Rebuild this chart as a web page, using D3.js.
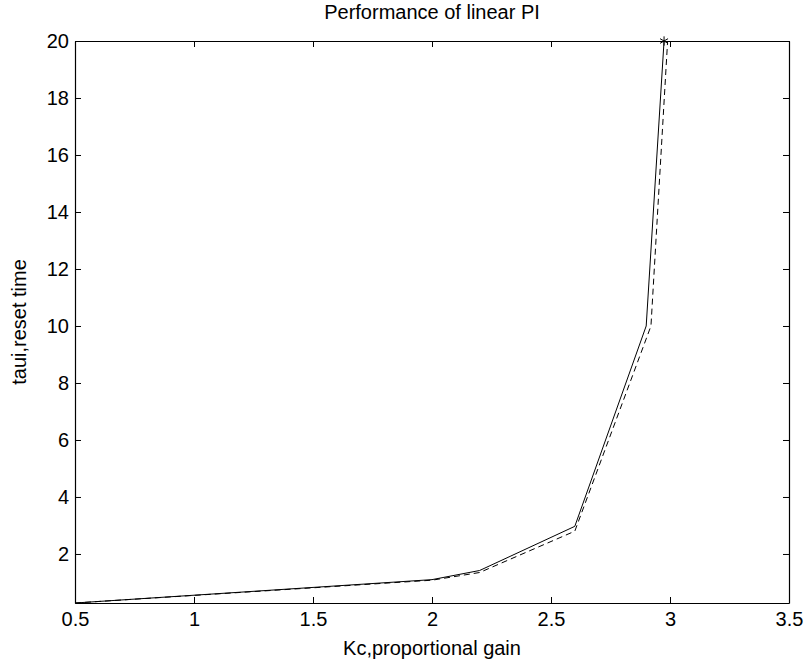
<!DOCTYPE html>
<html>
<head>
<meta charset="utf-8">
<script src="https://cdn.jsdelivr.net/npm/d3@7"></script>
<style>
  body { margin: 0; background: #fff; }
  text { font-family: "Liberation Sans", Arial, sans-serif; fill: #000; }
</style>
</head>
<body>
<script>
// data
var kcSolid   = [0.5, 2.0, 2.2, 2.6, 2.9, 2.975];
var tauSolid  = [0.28, 1.1, 1.42, 2.97, 10, 20];
var kcDashed  = [0.5, 2.0, 2.2, 2.6, 2.92, 2.99];
var tauDashed = [0.28, 1.08, 1.35, 2.8, 10, 20];
var xTicks = [0.5, 1, 1.5, 2, 2.5, 3, 3.5];
var yTicks = [2, 4, 6, 8, 10, 12, 14, 16, 18, 20];

var W = 807, H = 666;
var margin = {top: 41, right: 18, bottom: 63, left: 75};
var w = W - margin.left - margin.right;
var h = H - margin.top - margin.bottom;
var fs = 20;

var svg = d3.select("body").append("svg")
    .attr("width", W)
    .attr("height", H);

var g = svg.append("g")
    .attr("transform", "translate(" + margin.left + "," + margin.top + ")");

var x = d3.scaleLinear().domain([0.5, 3.5]).range([0, w]);
var y = d3.scaleLinear().domain([0.28, 20]).range([h, 0]);

// axes, ticks pointing inward like matlab
g.append("g")
    .attr("transform", "translate(0," + h + ")")
    .call(d3.axisBottom(x).tickValues(xTicks).tickSizeInner(-6).tickSizeOuter(0).tickPadding(9).tickFormat(d3.format("")));
g.append("g")
    .call(d3.axisTop(x).tickValues(xTicks).tickSizeInner(-6).tickSizeOuter(0).tickFormat(""));
g.append("g")
    .call(d3.axisLeft(y).tickValues(yTicks).tickSizeInner(-6).tickSizeOuter(0).tickPadding(6));
g.append("g")
    .attr("transform", "translate(" + w + ",0)")
    .call(d3.axisRight(y).tickValues(yTicks).tickSizeInner(-6).tickSizeOuter(0).tickFormat(""));

g.selectAll(".domain").attr("stroke", "#000").attr("stroke-width", 1.2);
g.selectAll(".tick line").attr("stroke", "#000");
g.selectAll(".tick text").style("font-size", fs + "px").attr("fill", "#000");

var line = d3.line()
    .x(function(d) { return x(d[0]); })
    .y(function(d) { return y(d[1]); });

var solid = d3.zip(kcSolid, tauSolid);
var dashed = d3.zip(kcDashed, tauDashed);

g.append("path")
    .datum(solid)
    .attr("d", line)
    .attr("fill", "none")
    .attr("stroke", "#000")
    .attr("stroke-width", 1);

g.append("path")
    .datum(dashed)
    .attr("d", line)
    .attr("fill", "none")
    .attr("stroke", "#000")
    .attr("stroke-width", 1)
    .attr("stroke-dasharray", "6,4");

// star marker at the end of the solid line
var last = solid[solid.length - 1];
g.append("path")
    .attr("transform", "translate(" + x(last[0]) + "," + y(last[1]) + ")")
    .attr("d", d3.symbol().type(d3.symbolAsterisk).size(60))
    .attr("fill", "none")
    .attr("stroke", "#000")
    .attr("stroke-width", 1);

// title and axis labels
svg.append("text")
    .attr("x", margin.left + w / 2)
    .attr("y", 19)
    .attr("text-anchor", "middle")
    .style("font-size", fs + "px")
    .text("Performance of linear PI");

svg.append("text")
    .attr("x", margin.left + w / 2)
    .attr("y", 655)
    .attr("text-anchor", "middle")
    .style("font-size", fs + "px")
    .text("Kc,proportional gain");

svg.append("text")
    .attr("transform", "rotate(-90)")
    .attr("x", -(margin.top + h / 2))
    .attr("y", 26)
    .attr("text-anchor", "middle")
    .style("font-size", fs + "px")
    .text("taui,reset time");
</script>
</body>
</html>
